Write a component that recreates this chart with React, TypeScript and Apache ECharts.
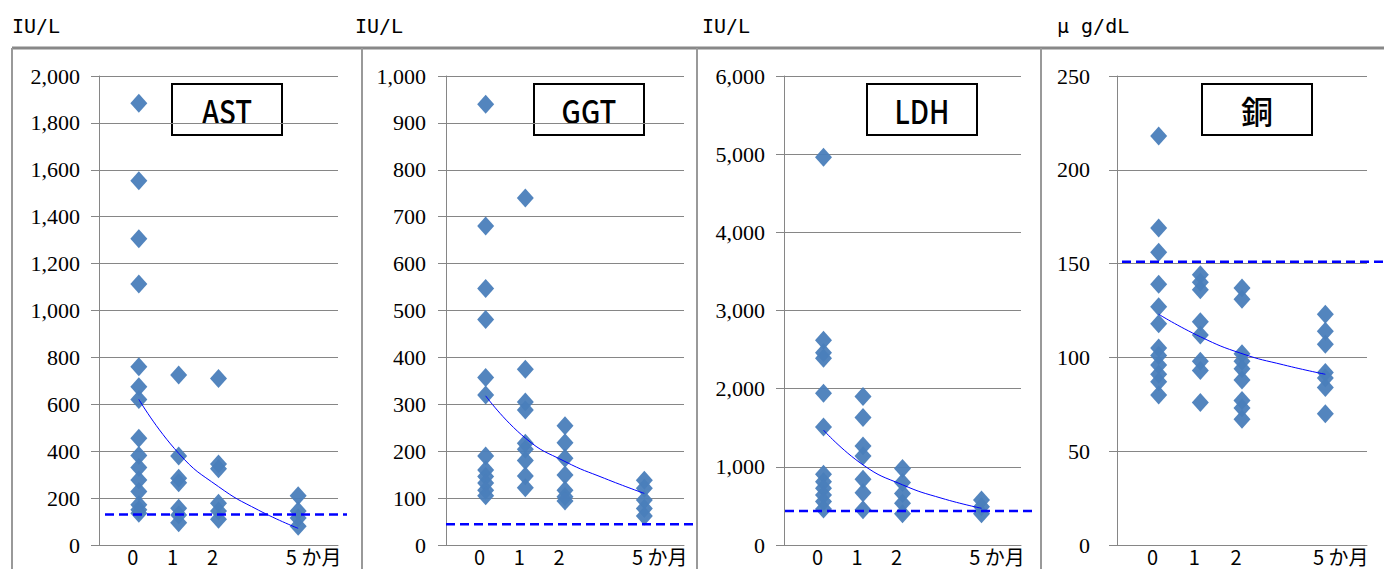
import React, { useEffect, useRef } from "react";
import * as echarts from "echarts";

// ---- data ----
const xPositions = [1, 2, 3, 5];
const xTickLabels = ["0", "1", "2", "5 か月"];
const trendX = [1, 2, 3, 4, 5];

const panelTitles = ["AST", "GGT", "LDH", "銅"];
const unitLabels = ["IU/L", "IU/L", "IU/L", "μ g/dL"];
const axisMax = [2000, 1000, 6000, 250];
const axisInterval = [200, 100, 1000, 50];
const refLimits = [130, 44, 435, 151];

const astM0 = [1884, 1553, 1306, 1113, 760, 675, 620, 455, 382, 330, 277, 228, 172, 150, 135];
const astM1 = [725, 380, 285, 265, 157, 128, 95];
const astM2 = [710, 345, 325, 178, 145, 110];
const astM5 = [210, 145, 115, 80];
const astTrend = [621, 391, 249, 149, 71];

const ggtM0 = [940, 680, 547, 481, 357, 320, 190, 160, 146, 132, 117, 105];
const ggtM1 = [740, 375, 305, 288, 217, 204, 180, 147, 122];
const ggtM2 = [254, 218, 185, 149, 117, 103, 94];
const ggtM5 = [138, 121, 96, 78, 62];
const ggtTrend = [318, 228, 178, 142, 110];

const ldhM0 = [4960, 2620, 2460, 2390, 1940, 1510, 905, 810, 725, 640, 555, 460];
const ldhM1 = [1900, 1630, 1265, 1140, 840, 670, 450];
const ldhM2 = [980, 800, 660, 535, 400];
const ldhM5 = [575, 490, 400];
const ldhTrend = [1470, 1025, 770, 597, 470];

const cuM0 = [218, 169, 156, 139, 127, 118, 105, 101, 96, 91, 87, 80];
const cuM1 = [144, 140, 136, 119, 112, 98, 93, 76];
const cuM2 = [137, 131, 102, 98, 94, 88, 77, 73, 67];
const cuM5 = [123, 114, 107, 92, 89, 84, 70];
const cuTrend = [123, 111, 102, 96, 91];

const panelValues = [
  [astM0, astM1, astM2, astM5],
  [ggtM0, ggtM1, ggtM2, ggtM5],
  [ldhM0, ldhM1, ldhM2, ldhM5],
  [cuM0, cuM1, cuM2, cuM5],
];
const panelTrends = [astTrend, ggtTrend, ldhTrend, cuTrend];

// ---- layout ----
const TOP = 76;
const HEIGHT = 469;
const mainGrids = [
  { left: 99, width: 239 },
  { left: 446, width: 238 },
  { left: 784, width: 237 },
  { left: 1117, width: 250 },
];
const refGrids = [
  { left: 105, width: 242 },
  { left: 446, width: 251 },
  { left: 785, width: 250 },
  { left: 1122, width: 262 },
];
const labelMargins = [19, 20, 19, 27];
const titleBoxes = [172, 534, 867, 1202];
const unitX = [12, 355, 702, 1057];
const dividers = [12, 362, 697, 1041];

const GRID_COLOR = "#868686";
const MARK_COLOR = "#4a7ebb";
const SERIF = "'Liberation Serif', 'DejaVu Serif', serif";
const GOTHIC = "'Noto Sans CJK JP', sans-serif";

export default function App() {
  const ref = useRef<HTMLDivElement>(null);

  useEffect(() => {
    if (!ref.current) return;
    const chart = echarts.init(ref.current, null, { renderer: "svg" });

    const grid: any[] = [];
    const xAxis: any[] = [];
    const yAxis: any[] = [];
    const series: any[] = [];
    const graphic: any[] = [];

    for (let p = 0; p < 4; p++) {
      grid.push({ left: mainGrids[p].left, width: mainGrids[p].width, top: TOP, height: HEIGHT });
      grid.push({ left: refGrids[p].left, width: refGrids[p].width, top: TOP, height: HEIGHT });
      const gi = p * 2;

      xAxis.push({
        type: "value",
        gridIndex: gi,
        min: 0,
        max: 6,
        interval: 1,
        splitLine: { show: false },
        axisTick: { show: false },
        axisLine: { show: true, lineStyle: { color: GRID_COLOR, width: 1 } },
        axisLabel: {
          margin: 1,
          formatter: (v: number) => {
            const i = xPositions.indexOf(v);
            if (i < 0) return "";
            return i === xTickLabels.length - 1 ? `{b|${xTickLabels[i]}}` : `{a|${xTickLabels[i]}}`;
          },
          rich: {
            a: { fontFamily: GOTHIC, fontSize: 20, lineHeight: 20, color: "#000", padding: [0, 12, 0, 0] },
            b: { fontFamily: GOTHIC, fontSize: 20, lineHeight: 20, color: "#000", padding: [0, 0, 0, 31] },
          },
        },
      });
      xAxis.push({ type: "value", gridIndex: gi + 1, min: 0, max: 1, show: false });

      yAxis.push({
        type: "value",
        gridIndex: gi,
        min: 0,
        max: axisMax[p],
        interval: axisInterval[p],
        axisLine: { show: true, lineStyle: { color: GRID_COLOR, width: 1 } },
        axisTick: { show: true, length: 8, lineStyle: { color: GRID_COLOR } },
        splitLine: { show: true, lineStyle: { color: GRID_COLOR, width: 1 } },
        axisLabel: {
          margin: labelMargins[p],
          fontFamily: SERIF,
          fontSize: 22,
          color: "#000",
          formatter: (v: number) => v.toLocaleString("en-US"),
        },
      });
      yAxis.push({ type: "value", gridIndex: gi + 1, min: 0, max: axisMax[p], show: false });

      const pts: number[][] = [];
      panelValues[p].forEach((vals, k) => vals.forEach((v) => pts.push([xPositions[k], v])));
      series.push({
        type: "scatter",
        xAxisIndex: gi,
        yAxisIndex: gi,
        symbol: "diamond",
        symbolSize: [17, 19],
        itemStyle: { color: MARK_COLOR, opacity: 0.95 },
        data: pts,
        z: 2,
      });
      series.push({
        type: "line",
        xAxisIndex: gi,
        yAxisIndex: gi,
        smooth: true,
        showSymbol: false,
        symbol: "none",
        lineStyle: { color: "#0000ff", width: 1 },
        data: trendX.map((x, i) => [x, panelTrends[p][i]]),
        z: 3,
      });
      series.push({
        type: "line",
        xAxisIndex: gi + 1,
        yAxisIndex: gi + 1,
        symbol: "none",
        lineStyle: { color: "#0000ff", width: 2.5, type: [9, 5] },
        data: [
          [0, refLimits[p]],
          [1, refLimits[p]],
        ],
        z: 4,
      });

      graphic.push({
        type: "group",
        z: 100,
        children: [
          {
            type: "rect",
            shape: { x: titleBoxes[p], y: 84, width: 110, height: 51 },
            style: { fill: "#fff", stroke: "#000", lineWidth: 2 },
          },
          {
            type: "text",
            x: titleBoxes[p] + 55,
            y: 110,
            scaleX: p === 3 ? 1 : 0.86,
            style: {
              text: panelTitles[p],
              fontFamily: GOTHIC,
              fontSize: 32,
              fontWeight: 500,
              fill: "#000",
              textAlign: "center",
              textVerticalAlign: "middle",
            },
          },
        ],
      });
      graphic.push({
        type: "text",
        x: unitX[p],
        y: 26,
        z: 100,
        style: {
          text: unitLabels[p],
          fontFamily: "'DejaVu Sans Mono', monospace",
          fontSize: 20,
          fill: "#000",
          textAlign: "left",
          textVerticalAlign: "middle",
        },
      });
    }

    graphic.push({
      type: "line",
      z: 90,
      shape: { x1: 12, y1: 48, x2: 1384, y2: 48 },
      style: { stroke: "#888", lineWidth: 3 },
    });
    dividers.forEach((x) =>
      graphic.push({
        type: "line",
        z: 90,
        shape: { x1: x, y1: 48, x2: x, y2: 569 },
        style: { stroke: "#999", lineWidth: 2 },
      })
    );

    chart.setOption({
      animation: false,
      backgroundColor: "#fff",
      grid,
      xAxis,
      yAxis,
      series,
      graphic,
    });

    return () => chart.dispose();
  }, []);

  return (
    <div
      ref={ref}
      style={{ position: "fixed", left: 0, top: 0, width: 1384, height: 569 }}
    />
  );
}
